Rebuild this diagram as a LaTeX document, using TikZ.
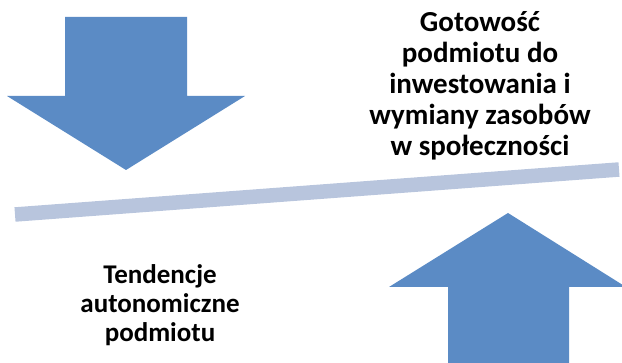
\documentclass[tikz,border=0pt]{standalone}
\usepackage{fontspec}
\setmainfont{Carlito}
\definecolor{arrowblue}{RGB}{91,139,197}
\definecolor{barblue}{RGB}{184,197,221}
\begin{document}
\begin{tikzpicture}[x=1pt,y=-1pt,
  bigarrow/.style={fill=arrowblue,draw=none},
  label/.style={align=center,inner sep=0pt,text=black,
    font=\fontsize{27}{29}\selectfont\bfseries}]
\useasboundingbox (0,0) rectangle (622,363);
% down arrow
\path[bigarrow] (65,17) -- (187,17) -- (187,96) -- (245,96) -- (126,170)
  -- (7,96) -- (65,96) -- cycle;
% up arrow
\path[bigarrow] (448,363) -- (448,287) -- (389,287) -- (508,213)
  -- (626,287) -- (569,287) -- (569,363) -- cycle;
% bar
\coordinate (barL) at (15,214.5);
\coordinate (barR) at (619,169.5);
\draw[barblue,line width=14.5pt] (barL) -- (barR);
% texts
\node[label,font=\fontsize{29}{31}\selectfont\bfseries] (top) at (480,86) {Gotowość\\podmiotu do\\inwestowania i\\wymiany zasobów\\w społeczności};
\node[label] (bottom) at (160,305) {Tendencje\\autonomiczne\\podmiotu};
\end{tikzpicture}
\end{document}
